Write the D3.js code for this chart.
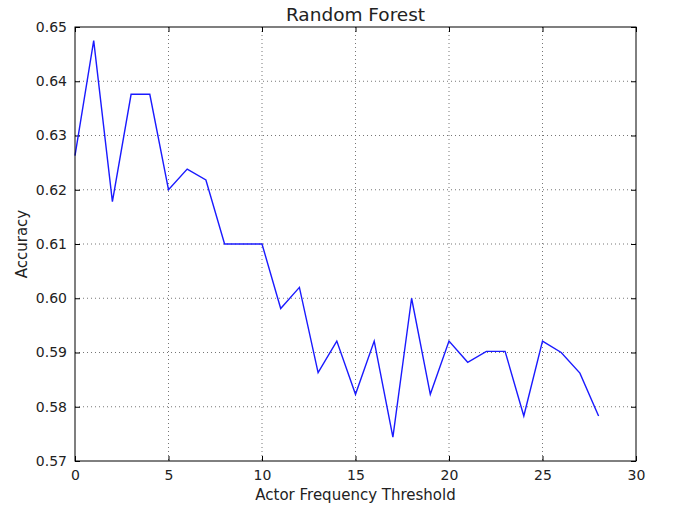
<!DOCTYPE html>
<html>
<head>
<meta charset="utf-8">
<script src="https://cdn.jsdelivr.net/npm/d3@7"></script>
<style>
  body { margin: 0; background: #fff; }
  text { font-family: "DejaVu Sans", sans-serif; fill: #222; }
</style>
</head>
<body>
<svg id="chart" width="680" height="505"></svg>
<script>
// threshold values (x) and accuracy (y)
var thresholds = d3.range(0, 29);
var accuracy = [
  0.6263, 0.6475, 0.6178, 0.6376, 0.6376, 0.6200, 0.6238, 0.6218, 0.6100, 0.6100,
  0.6100, 0.5981, 0.6020, 0.5863, 0.5921, 0.5823, 0.5921, 0.5744, 0.6000, 0.5823,
  0.5921, 0.5882, 0.5902, 0.5902, 0.5783, 0.5921, 0.5900, 0.5862, 0.5783
];
var xTicks = [0, 5, 10, 15, 20, 25, 30];
var yTicks = [0.57, 0.58, 0.59, 0.60, 0.61, 0.62, 0.63, 0.64, 0.65];

var margin = { top: 27, right: 44, bottom: 44, left: 75 };
var svg = d3.select("#chart");
var W = 680 - margin.left - margin.right;
var H = 505 - margin.top - margin.bottom;

var x = d3.scaleLinear().domain([0, 30]).range([0, W]);
var y = d3.scaleLinear().domain([0.57, 0.65]).range([H, 0]);

var g = svg.append("g").attr("transform", `translate(${margin.left},${margin.top})`);

// сетка
g.append("g").selectAll("line").data(xTicks.slice(1, -1)).enter().append("line")
  .attr("x1", d => x(d)).attr("x2", d => x(d)).attr("y1", 0).attr("y2", H)
  .attr("stroke", "#666").attr("stroke-width", 0.9).attr("stroke-dasharray", "1,3");
g.append("g").selectAll("line").data(yTicks.slice(1, -1)).enter().append("line")
  .attr("y1", d => y(d)).attr("y2", d => y(d)).attr("x1", 0).attr("x2", W)
  .attr("stroke", "#666").attr("stroke-width", 0.9).attr("stroke-dasharray", "1,3");

// оси (тики внутрь)
function styleAxis(sel) {
  sel.select(".domain").remove();
  sel.selectAll(".tick line").attr("stroke", "#000");
  sel.selectAll(".tick text").style("font-size", "14px").style("font-family", "DejaVu Sans, sans-serif").attr("fill", "#222");
}
g.append("g").attr("transform", `translate(0,${H})`)
  .call(d3.axisBottom(x).tickValues(xTicks).tickSizeInner(-5).tickPadding(9).tickSizeOuter(0))
  .call(styleAxis);
g.append("g")
  .call(d3.axisLeft(y).tickValues(yTicks).tickFormat(d3.format(".2f")).tickSizeInner(-5).tickPadding(8).tickSizeOuter(0))
  .call(styleAxis);
g.append("g")
  .call(d3.axisTop(x).tickValues(xTicks).tickSizeInner(-5).tickSizeOuter(0).tickFormat(""))
  .call(styleAxis);
g.append("g").attr("transform", `translate(${W},0)`)
  .call(d3.axisRight(y).tickValues(yTicks).tickSizeInner(-5).tickSizeOuter(0).tickFormat(""))
  .call(styleAxis);

// линия
g.append("path")
  .datum(thresholds)
  .attr("fill", "none")
  .attr("stroke", "#1a1aff")
  .attr("stroke-width", 1.4)
  .attr("d", d3.line().x(d => x(d)).y(d => y(accuracy[d])));

// рамка
g.append("rect").attr("width", W).attr("height", H)
  .attr("fill", "none").attr("stroke", "#000").attr("stroke-width", 1);

// подписи
svg.append("text").attr("x", margin.left + W / 2).attr("y", 21)
  .attr("text-anchor", "middle").style("font-size", "18.5px").text("Random Forest");
svg.append("text").attr("x", margin.left + W / 2).attr("y", 500)
  .attr("text-anchor", "middle").style("font-size", "15px").text("Actor Frequency Threshold");
svg.append("text").attr("transform", `translate(27,${margin.top + H / 2}) rotate(-90)`)
  .attr("text-anchor", "middle").style("font-size", "15px").text("Accuracy");
</script>
</body>
</html>
